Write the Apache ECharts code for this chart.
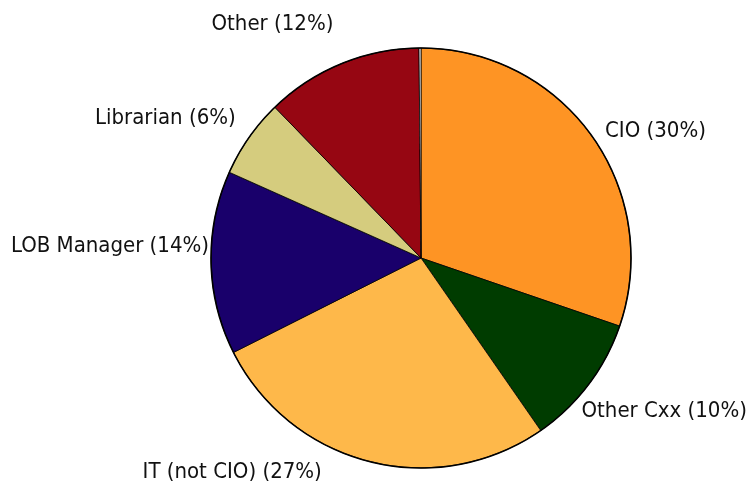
<!DOCTYPE html>
<html>
<head>
<meta charset="utf-8">
<script src="https://cdn.jsdelivr.net/npm/echarts@6/dist/echarts.min.js"></script>
<style>
  html, body { margin: 0; padding: 0; background: #fff; }
  #chart { width: 748px; height: 500px; }
</style>
</head>
<body>
<div id="chart"></div>
<script>
// roles, clockwise from 12 o'clock
var roles = ['CIO', 'Other Cxx', 'IT (not CIO)', 'LOB Manager', 'Librarian', 'Other', '']
var shares = [30, 10, 27, 14, 6, 12, 0.15]
var colors = ['#fe9424', '#003c00', '#feb84a', '#19006b', '#d5cc7e', '#960612', '#ffffff']
// small label shifts to sit where the original puts them
var nudges = [[0, 1], [-20, 21], [-40, 1], [13, -17], [0, -14], [1, -30], [0, 0]]

var pieData = []
for (var i = 0; i < roles.length; i++) {
  pieData.push({
    name: roles[i],
    value: shares[i],
    itemStyle: { color: colors[i] },
    label: { show: roles[i] !== '' }
  })
}

var chart = echarts.init(document.getElementById('chart'))
chart.setOption({
  animation: false,
  series: [{
    type: 'pie',
    center: [421, 258],
    radius: 210,
    startAngle: 90,
    clockwise: true,
    avoidLabelOverlap: false,
    data: pieData,
    itemStyle: {
      borderColor: '#000',
      borderWidth: 0.8
    },
    label: {
      position: 'outside',
      alignTo: 'none',
      color: '#111',
      fontSize: 22,
      fontFamily: 'Liberation Sans Narrow, DejaVu Sans Condensed, sans-serif',
      formatter: function (p) {
        return p.name + ' (' + p.value + '%)'
      }
    },
    labelLine: { show: false, length: 10, length2: 0 },
    labelLayout: function (p) {
      var n = nudges[p.dataIndex]
      return { dx: n[0], dy: n[1] }
    },
    emphasis: { disabled: true }
  }],
  graphic: [{
    type: 'circle',
    shape: { cx: 421, cy: 258, r: 210 },
    style: { fill: 'none', stroke: '#000', lineWidth: 1.6 },
    z: 100
  }]
})
</script>
</body>
</html>
